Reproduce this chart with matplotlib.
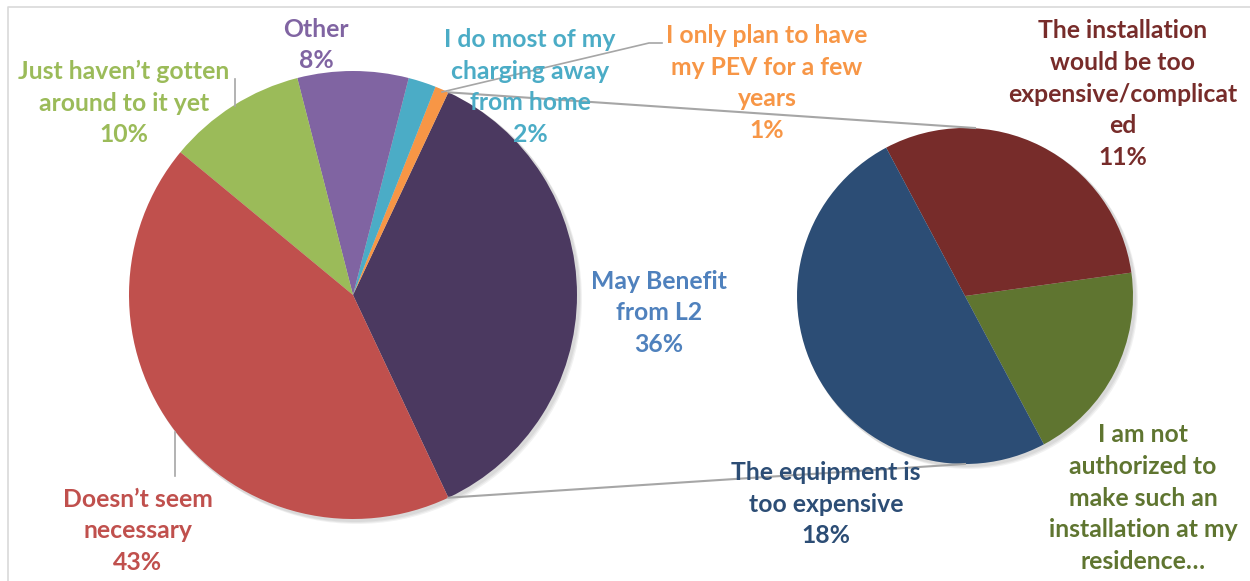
import matplotlib.pyplot as plt
from matplotlib.patches import Circle
import numpy as np

# --- dados ---
left_labels = ["May Benefit\nfrom L2", "I only plan to have\nmy PEV for a few\nyears",
               "I do most of my\ncharging away\nfrom home", "Other",
               "Just haven\u2019t gotten\naround to it yet", "Doesn\u2019t seem\nnecessary"]
left_values = [36, 1, 2, 8, 10, 43]
left_colors = ["#4B3960", "#F79646", "#4BACC6", "#8064A2", "#9BBB59", "#C0504D"]
left_text_colors = ["#4F81BD", "#F79646", "#4BACC6", "#8064A2", "#9BBB59", "#C0504D"]

right_labels = ["I am not\nauthorized to\nmake such an\ninstallation at my\nresidence\u2026",
                "The installation\nwould be too\nexpensive/complicat\ned",
                "The equipment is\ntoo expensive"]
right_values = [7, 11, 18]
right_colors = ["#5F7530", "#772C2A", "#2C4D75"]
right_show_pct = [False, True, True]

W, H = 1250, 581
fig = plt.figure(figsize=(12.5, 5.81), dpi=100)
ax = fig.add_axes([0, 0, 1, 1])

def Y(y):
    # converte coordenada da imagem (y para baixo) para o eixo
    return H - y

c1, r1 = (353, Y(295)), 224
c2, r2 = (965, Y(296)), 168

# sombra suave
for c, r in [(c1, r1), (c2, r2)]:
    for k in range(3):
        ax.add_patch(Circle((c[0] + 2 + k, c[1] - 2 - k), r + 1, color="black", alpha=0.05, lw=0, zorder=1))

ax.pie(left_values, colors=left_colors, startangle=-64.8, center=c1, radius=r1,
       wedgeprops=dict(linewidth=0, zorder=2))
ax.pie([v / sum(right_values) for v in right_values], colors=right_colors, startangle=-62,
       center=c2, radius=r2, wedgeprops=dict(linewidth=0, zorder=2), normalize=False)
ax.set_xlim(0, W)
ax.set_ylim(0, H)
ax.set_aspect("equal")
ax.axis("off")

# moldura do gráfico
ax.plot([8, 8, W], [0, Y(7), Y(7)], color="#D9D9D9", lw=1.2)

# linhas de ligação
a = np.deg2rad(left_values[0] / 100 * 360 / 2)
ax.plot([c1[0] + r1 * np.cos(a), c2[0] + 10], [c1[1] + r1 * np.sin(a), c2[1] + r2], color="#A6A6A6", lw=1.5, zorder=3)
ax.plot([c1[0] + r1 * np.cos(a), c2[0]], [c1[1] - r1 * np.sin(a), c2[1] - r2], color="#A6A6A6", lw=1.5, zorder=3)

# linhas de chamada
lc = "#A6A6A6"
ax.plot([442, 649, 662], [Y(92), Y(43), Y(43)], color=lc, lw=1.2, zorder=3)
ax.plot([235, 235], [Y(79), Y(106)], color=lc, lw=1.2, zorder=3)
ax.plot([175, 175], [Y(432), Y(476)], color=lc, lw=1.2, zorder=3)

font = dict(family=["Lato", "DejaVu Sans"], fontweight="bold", fontsize=17.8,
            ha="center", va="center", linespacing=1.45, zorder=4)

# posições dos rótulos (centro x, centro y na imagem)
left_pos = [(659, 313), (767, 83), (530, 87), (316, 45), (124, 103), (138, 531)]
right_pos = [(1143, 498), (1123, 94), (826, 504)]

for lab, v, col, (x, y) in zip(left_labels, left_values, left_text_colors, left_pos):
    ax.text(x, Y(y), f"{lab}\n{v}%", color=col, **font)
for lab, v, col, show, (x, y) in zip(right_labels, right_values, right_colors, right_show_pct, right_pos):
    txt = f"{lab}\n{v}%" if show else lab
    ax.text(x, Y(y), txt, color=col, **font)

fig.savefig("out.png", dpi=100)
